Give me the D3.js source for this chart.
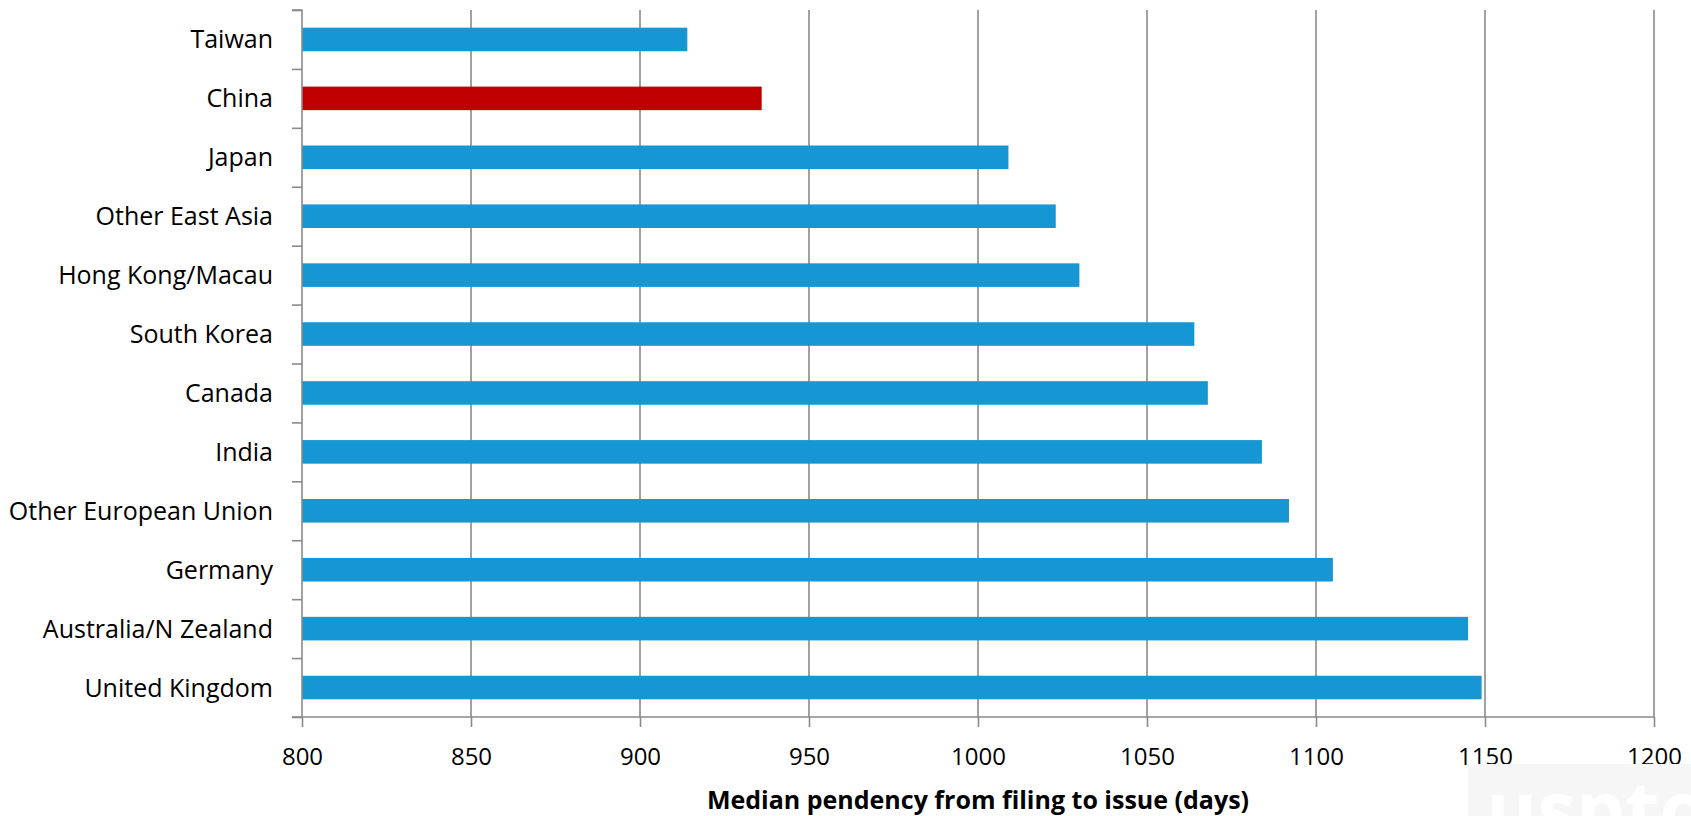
<!DOCTYPE html>
<html>
<head>
<meta charset="utf-8">
<script src="https://cdn.jsdelivr.net/npm/d3@7"></script>
<style>
  html, body { margin: 0; padding: 0; background: #fff; }
  svg { display: block; font-family: "Open Sans", "Noto Sans", sans-serif; }
</style>
</head>
<body>
<svg id="chart" width="1691" height="816"></svg>
<script>
// ---- data ----
const categories = ["Taiwan", "China", "Japan", "Other East Asia", "Hong Kong/Macau", "South Korea",
  "Canada", "India", "Other European Union", "Germany", "Australia/N Zealand", "United Kingdom"];
const pendencyDays = [914, 936, 1009, 1023, 1030, 1064, 1068, 1084, 1092, 1105, 1145, 1149];
const highlighted = ["China"];
const xTicks = [800, 850, 900, 950, 1000, 1050, 1100, 1150, 1200];
const xTitle = "Median pendency from filing to issue (days)";

// ---- layout ----
const svg = d3.select("#chart");
const m = { left: 302, right: 1654, top: 10, bottom: 717 };
const axisColor = "#8a8a8a";
const barBlue = "#1696d2";
const barRed = "#c00000";

const x = d3.scaleLinear().domain([800, 1200]).range([m.left, m.right]);
const y = d3.scaleBand().domain(categories).range([m.top, m.bottom])
  .paddingInner(0.6).paddingOuter(0.3);
const yEdges = d3.scaleLinear().domain([0, categories.length]).range([m.top, m.bottom]);

// gridlines
svg.append("g").selectAll("line").data(xTicks.slice(1)).join("line")
  .attr("x1", d => x(d)).attr("x2", d => x(d))
  .attr("y1", m.top).attr("y2", m.bottom)
  .attr("stroke", axisColor).attr("stroke-width", 1.6);

// bars
svg.append("g").selectAll("rect").data(categories).join("rect")
  .attr("x", x(800))
  .attr("y", d => y(d))
  .attr("width", (d, i) => x(pendencyDays[i]) - x(800))
  .attr("height", y.bandwidth())
  .attr("fill", d => highlighted.includes(d) ? barRed : barBlue);

// y axis (tick marks at category boundaries)
const yAxisG = svg.append("g").attr("transform", `translate(${m.left},0)`)
  .call(d3.axisLeft(yEdges).tickValues(d3.range(categories.length + 1)).tickSize(10).tickFormat(""));
yAxisG.selectAll("line, path").attr("stroke", axisColor).attr("stroke-width", 1.6);
yAxisG.select("path").attr("d", `M-10,${m.top}H0V${m.bottom}`);

// category labels
svg.append("g").selectAll("text").data(categories).join("text")
  .attr("x", 273)
  .attr("y", d => y(d) + y.bandwidth() / 2)
  .attr("dy", "0.36em")
  .attr("text-anchor", "end")
  .attr("font-size", 25)
  .attr("fill", "#000")
  .text(d => d);

// x axis
const xAxisG = svg.append("g").attr("transform", `translate(0,${m.bottom})`)
  .call(d3.axisBottom(x).tickValues(xTicks).tickSize(10).tickFormat(d3.format("d")));
xAxisG.selectAll("line, path").attr("stroke", axisColor).attr("stroke-width", 1.6);
xAxisG.select("path").attr("d", `M${m.left - 10},0H${m.right}`);
xAxisG.selectAll("text")
  .attr("y", 48).attr("dy", null)
  .attr("font-size", 24)
  .attr("font-family", "'Open Sans', sans-serif")
  .attr("fill", "#000");

// x title
svg.append("text")
  .attr("x", (m.left + m.right) / 2)
  .attr("y", 809)
  .attr("text-anchor", "middle")
  .attr("font-size", 25)
  .attr("font-weight", "bold")
  .attr("fill", "#000")
  .text(xTitle);

// faint watermark
svg.append("rect").attr("x", 1468).attr("y", 764).attr("width", 223).attr("height", 52).attr("fill", "#f6f6f6");
svg.append("text").attr("x", 1486).attr("y", 838).attr("font-size", 78).attr("font-weight", "bold")
  .attr("fill", "#ffffff").text("uspto");
</script>
</body>
</html>
